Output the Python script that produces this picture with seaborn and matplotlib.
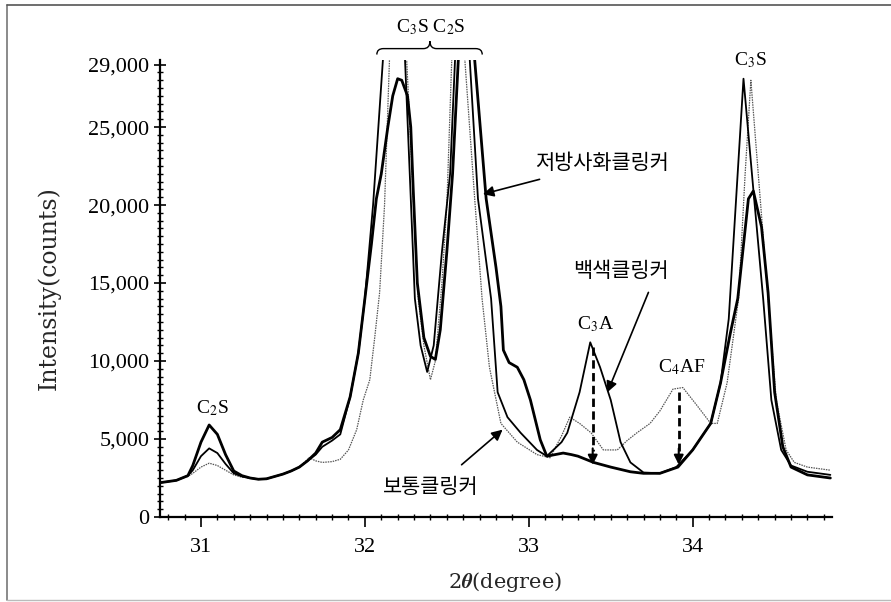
import numpy as np
import pandas as pd
import matplotlib
matplotlib.use("Agg")
import matplotlib.pyplot as plt
from matplotlib.path import Path
from matplotlib.patches import PathPatch
from matplotlib.lines import Line2D
from matplotlib.ticker import MultipleLocator, FuncFormatter, FixedLocator
import seaborn as sns

# ---------------- data ----------------
# 저방사화클링커 (thick black)
x_low = [30.75, 30.85, 30.92, 30.95, 31.0, 31.05, 31.1, 31.15, 31.2, 31.25, 31.3, 31.35,
         31.4, 31.45, 31.5, 31.55, 31.6, 31.65, 31.7, 31.74, 31.8, 31.85, 31.91, 31.96, 32.0,
         32.04, 32.07, 32.1, 32.14, 32.17, 32.2, 32.225, 32.26, 32.28, 32.295, 32.32, 32.36,
         32.4, 32.43, 32.46, 32.5, 32.535, 32.57, 32.62, 32.67, 32.74, 32.8, 32.83, 32.845,
         32.88, 32.93, 32.97, 33.01, 33.07, 33.11, 33.16, 33.21, 33.26, 33.3, 33.395, 33.5,
         33.62, 33.7, 33.8, 33.91, 34.0, 34.11, 34.17, 34.23, 34.275, 34.34, 34.37,
         34.42, 34.46, 34.5, 34.55, 34.6, 34.7, 34.84]
y_low = [2200, 2350, 2650, 3300, 4800, 5900, 5300, 4000, 2950, 2650, 2500, 2420,
         2450, 2600, 2750, 2950, 3200, 3600, 4100, 4800, 5100, 5600, 7700, 10500, 14000,
         17500, 20400, 22000, 25000, 27000, 28100, 28000, 27000, 25000, 21000, 15000, 11500,
         10300, 10100, 12000, 17000, 22000, 29300, 35000, 29300, 20400, 16000, 13500, 10700,
         9900, 9600, 8800, 7500, 4950, 3900, 4000, 4100, 4000, 3900, 3500, 3200,
         2900, 2800, 2800, 3200, 4300, 6000, 8600, 11800, 14000, 20400, 20900,
         18600, 14400, 8000, 4500, 3200, 2700, 2500]

# 백색클링커 (black)
x_white = [30.75, 30.85, 30.92, 30.95, 31.0, 31.05, 31.1, 31.15, 31.2, 31.25, 31.3, 31.35,
           31.4, 31.45, 31.5, 31.55, 31.6, 31.65, 31.7, 31.74, 31.8, 31.85, 31.91, 31.96, 32.0,
           32.05, 32.11, 32.17, 32.245, 32.275, 32.305, 32.34, 32.38, 32.42, 32.47, 32.52,
           32.55, 32.6, 32.64, 32.69, 32.77, 32.81, 32.87, 32.95, 33.05, 33.11, 33.2, 33.235,
           33.31, 33.375, 33.435, 33.5, 33.56, 33.62, 33.7, 33.8, 33.9, 34.0, 34.11, 34.17,
           34.22, 34.31, 34.37, 34.43, 34.48, 34.54, 34.6, 34.7, 34.84]
y_white = [2200, 2350, 2650, 3000, 3900, 4400, 4100, 3400, 2800, 2600, 2500, 2420,
           2450, 2600, 2750, 2950, 3200, 3600, 4000, 4500, 4900, 5300, 7700, 10500, 14000,
           20000, 29300, 36000, 29300, 21700, 14000, 11000, 9300, 11000, 17000, 22000,
           29300, 37000, 29300, 20400, 14000, 8000, 6400, 5400, 4300, 3900, 4800, 5400,
           8000, 11200, 9600, 7500, 4800, 3500, 2850, 2800, 3200, 4300, 6000, 8600,
           12700, 28100, 21000, 14000, 7500, 4300, 3300, 2900, 2700]

# 보통클링커 (dotted grey)
x_normal = [30.75, 30.85, 30.92, 30.95, 31.0, 31.05, 31.1, 31.15, 31.2, 31.25, 31.3, 31.35,
            31.4, 31.45, 31.5, 31.55, 31.6, 31.66, 31.7, 31.74, 31.8, 31.85, 31.9, 31.95,
            31.99, 32.03, 32.06, 32.09, 32.12, 32.15, 32.19, 32.255, 32.29, 32.325, 32.36,
            32.4, 32.43, 32.47, 32.5, 32.53, 32.57, 32.61, 32.67, 32.715, 32.76, 32.83, 32.93,
            33.05, 33.13, 33.2, 33.25, 33.31, 33.38, 33.455, 33.54, 33.6, 33.66, 33.74, 33.8,
            33.88, 33.94, 34.03, 34.11, 34.15, 34.21, 34.28, 34.32, 34.355, 34.4, 34.46,
            34.51, 34.57, 34.62, 34.7, 34.84]
y_normal = [2200, 2350, 2600, 2800, 3200, 3450, 3300, 3000, 2700, 2550, 2500, 2420,
            2450, 2600, 2750, 2950, 3200, 3800, 3600, 3500, 3550, 3700, 4300, 5600,
            7500, 8800, 11500, 14400, 20000, 29300, 36000, 29300, 21700, 14000, 11000,
            8800, 10000, 15000, 20000, 29300, 36000, 29300, 20400, 14000, 9600, 6000, 4800,
            4000, 3800, 5200, 6400, 6000, 5400, 4300, 4300, 4900, 5400, 6000, 6800,
            8200, 8300, 7100, 6000, 6000, 8600, 14000, 22000, 28000, 22000, 14000,
            7500, 4300, 3500, 3200, 3000]

x_ticks = [31, 32, 33, 34]
y_ticks = [0, 5000, 10000, 15000, 20000, 25000, 29000]

# ---------------- style ----------------
sns.set_theme(style="white")
plt.rcParams['font.family'] = ['Liberation Serif', 'Noto Sans CJK KR', 'DejaVu Sans']
plt.rcParams['mathtext.fontset'] = 'stix'

fig = plt.figure(figsize=(8.91, 6.02), dpi=100)
ax = fig.add_axes([160 / 891, 85 / 602, 672 / 891, 457 / 602])

sns.lineplot(x=x_normal, y=y_normal, ax=ax, color='#555555', lw=0.9,
             linestyle=(0, (1.2, 0.8)), estimator=None, sort=False)
sns.lineplot(x=x_white, y=y_white, ax=ax, color='black', lw=1.3,
             estimator=None, sort=False)
sns.lineplot(x=x_low, y=y_low, ax=ax, color='black', lw=2.0,
             estimator=None, sort=False)

ax.set_xlim(30.75, 34.85)
ax.set_ylim(0, 29300)

for s in ['top', 'right']:
    ax.spines[s].set_visible(False)
for s in ['left', 'bottom']:
    ax.spines[s].set_color('black')
    ax.spines[s].set_linewidth(1.6)

ax.xaxis.set_major_locator(FixedLocator(x_ticks))
ax.xaxis.set_minor_locator(MultipleLocator(0.1))
ax.yaxis.set_major_locator(FixedLocator(y_ticks))
ax.yaxis.set_minor_locator(MultipleLocator(500))
ax.yaxis.set_major_formatter(FuncFormatter(lambda v, p: f"{int(v):,}"))
ax.tick_params(left=True, bottom=True, which='both')
ax.tick_params(axis='y', which='major', direction='inout', length=9, width=1.2,
               colors='black', labelsize=16, pad=3)
ax.tick_params(axis='y', which='minor', direction='inout', length=5, width=1.0,
               colors='black')
ax.tick_params(axis='x', which='major', direction='out', length=7, width=1.2,
               colors='black', labelsize=16, pad=8)
ax.tick_params(axis='x', which='minor', direction='inout', length=4, width=1.0,
               colors='black')

ax.set_ylabel('Intensity(counts)', fontsize=17, family='DejaVu Serif', labelpad=20)
ax.set_xlabel(r'2$\boldsymbol{\theta}$(degree)', fontsize=15, family='DejaVu Serif')
ax.xaxis.set_label_coords(0.513, -0.115)

# ---------------- annotations ----------------
lab_kw = dict(ha='center', va='center', fontsize=14, color='black')
ax.text(32.40, 31400, 'C$_3$S C$_2$S', clip_on=False, **lab_kw)
ax.text(31.07, 7000, 'C$_2$S', **lab_kw)
ax.text(34.35, 29300, 'C$_3$S', clip_on=False, **lab_kw)
ax.text(33.41, 12350, 'C$_3$A', **lab_kw)
ax.text(33.93, 9600, 'C$_4$AF', **lab_kw)

# brace over the two big peaks
x0, x1, xm, d = 32.073, 32.716, 32.397, 0.04
ye, yb, yt = 29650, 30030, 30500
verts = [(x0, ye), (x0, yb), (x0 + d, yb), (xm - d, yb), (xm, yb), (xm, yt),
         (xm, yb), (xm + d, yb), (x1 - d, yb), (x1, yb), (x1, ye)]
codes = [Path.MOVETO, Path.CURVE3, Path.CURVE3, Path.LINETO, Path.CURVE3, Path.CURVE3,
         Path.CURVE3, Path.CURVE3, Path.LINETO, Path.CURVE3, Path.CURVE3]
ax.add_patch(PathPatch(Path(verts, codes), fill=False, lw=1.0, color='black',
                       clip_on=False))

kr = dict(fontsize=15, family=['Noto Sans CJK KR', 'DejaVu Sans'], color='black')
arr = dict(arrowstyle='-|>', color='black', lw=1.2, mutation_scale=16, shrinkA=0, shrinkB=0)
ax.annotate('저방사화클링커', xy=(32.72, 20700), xytext=(33.04, 22700),
            ha='left', va='center', arrowprops=dict(arr, shrinkA=6), **kr)
ax.annotate('', xy=(33.48, 8000), xytext=(33.73, 14400), arrowprops=arr)
ax.text(33.56, 15800, '백색클링커', ha='center', va='center', **kr)
ax.annotate('', xy=(32.84, 5600), xytext=(32.59, 3350), arrowprops=arr)
ax.text(32.40, 1900, '보통클링커', ha='center', va='center', **kr)

# dashed arrows
for xd, ytop in [(33.39, 10900), (33.915, 8000)]:
    ax.plot([xd, xd], [ytop, 4200], color='black', lw=2.0, ls=(0, (3, 1.6)))
    ax.annotate('', xy=(xd, 3350), xytext=(xd, 4400),
                arrowprops=dict(arrowstyle='-|>', color='black', lw=1.5,
                                mutation_scale=14, shrinkA=0, shrinkB=0))

# outer frame (scan border)
fig.add_artist(Line2D([0.008, 0.008], [0.003, 0.992], color='#777777', lw=1.2))
fig.add_artist(Line2D([0.008, 1.0], [0.992, 0.992], color='#555555', lw=1.2))
fig.add_artist(Line2D([0.008, 1.0], [0.004, 0.004], color='#bbbbbb', lw=1.0))

fig.savefig('out.png', dpi=100, facecolor='white')
